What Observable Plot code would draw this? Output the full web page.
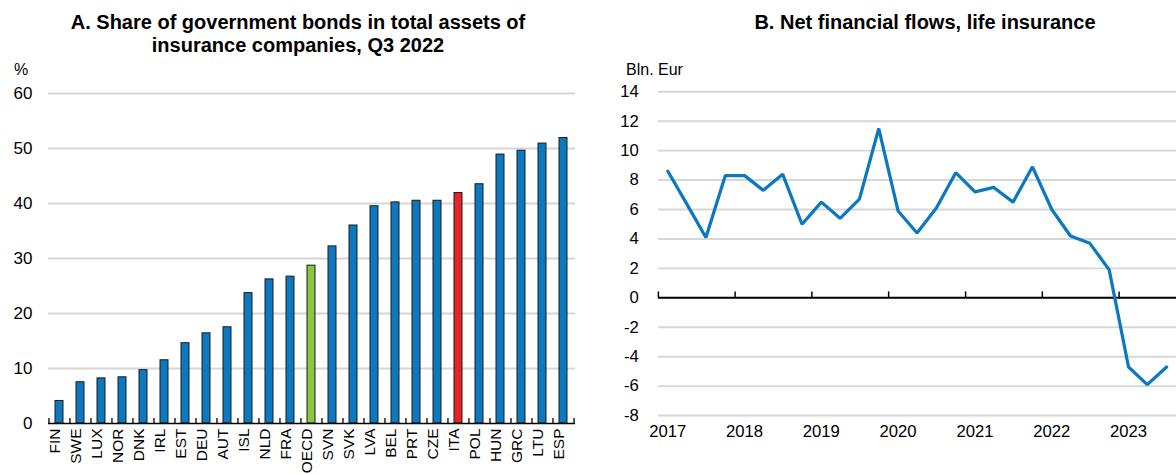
<!DOCTYPE html>
<html>
<head>
<meta charset="utf-8">
<script src="https://cdn.jsdelivr.net/npm/d3@7"></script>
<script src="https://cdn.jsdelivr.net/npm/@observablehq/plot@0.6"></script>
<style>
  html, body { margin: 0; padding: 0; background: #fff; overflow: hidden; }
  #wrap { position: relative; width: 1176px; height: 474px; overflow: hidden;
          font-family: "Liberation Sans", Arial, sans-serif; color: #000; }
  .title { position: absolute; text-align: center; font-weight: bold; font-size: 20px; line-height: 23px; }
  .unit { position: absolute; font-size: 16px; }
  .panel { position: absolute; top: 0; }
</style>
</head>
<body>
<div id="wrap">
  <div class="title" style="left:48px; width:500px; top:11px;">A. Share of government bonds in total assets of<br>insurance companies, Q3 2022</div>
  <div class="title" style="left:675px; width:500px; top:11px;">B. Net financial flows, life insurance</div>
  <div class="unit" style="left:14px; top:61px;">%</div>
  <div class="unit" style="left:626px; top:61px;">Bln. Eur</div>
  <div class="panel" id="left" style="left:0px;"></div>
  <div class="panel" id="right" style="left:600px;"></div>
</div>
<script>
// ---- Panel A data ----
const countries = ["FIN","SWE","LUX","NOR","DNK","IRL","EST","DEU","AUT","ISL","NLD","FRA","OECD","SVN","SVK","LVA","BEL","PRT","CZE","ITA","POL","HUN","GRC","LTU","ESP"];
const shares = [4.1,7.5,8.2,8.4,9.7,11.5,14.6,16.4,17.5,23.7,26.2,26.7,28.7,32.2,36.0,39.5,40.2,40.5,40.5,41.9,43.5,48.9,49.6,50.9,51.9];
const highlight = {OECD: "#8cc63f", ITA: "#e2252b"};
const shareTicks = [0,10,20,30,40,50,60];

// ---- Panel B data ----
const quarters = ["2017Q1","2017Q2","2017Q3","2017Q4","2018Q1","2018Q2","2018Q3","2018Q4","2019Q1","2019Q2","2019Q3","2019Q4","2020Q1","2020Q2","2020Q3","2020Q4","2021Q1","2021Q2","2021Q3","2021Q4","2022Q1","2022Q2","2022Q3","2022Q4","2023Q1","2023Q2","2023Q3"];
const flows = [8.6,6.4,4.1,8.3,8.3,7.3,8.4,5.0,6.5,5.4,6.7,11.5,5.9,4.4,6.1,8.5,7.2,7.5,6.5,8.9,6.0,4.2,3.7,1.9,-4.7,-5.9,-4.7];
const years = [2017,2018,2019,2020,2021,2022,2023,2024];
const flowTicks = [-8,-6,-4,-2,0,2,4,6,8,10,12,14];

const blue = "#0b78bf";
const grid = "#d6d6d6";
const fontFam = '"Liberation Sans", Arial, sans-serif';

// mid-quarter date
function qDate(q) {
  const y = +q.slice(0,4), k = +q.slice(5);
  return new Date(y, (k-1)*3 + 1, 15);
}

const barData = countries.map((c,i) => ({country: c, value: shares[i]}));
const step = 527 / 25;

const left = Plot.plot({
  width: 590, height: 474,
  marginLeft: 48, marginRight: 15, marginTop: 93, marginBottom: 51,
  style: {fontFamily: fontFam, fontSize: "16px", background: "transparent", overflow: "visible"},
  x: {domain: countries, paddingInner: 0.6, paddingOuter: 0.308, axis: null},
  y: {domain: [0, 60], axis: null},
  marks: [
    Plot.ruleY(shareTicks.filter(d => d > 0), {stroke: grid, strokeWidth: 2}),
    Plot.axisY(shareTicks, {tickSize: 0, tickPadding: 16, fontSize: 17, label: null, tickFormat: d => String(d)}),
    Plot.barY(barData, {x: "country", y: "value",
      fill: d => highlight[d.country] || blue, stroke: "#1a1a1a", strokeWidth: 1}),
    Plot.ruleY([0], {stroke: "#000", strokeWidth: 1.5}),
    Plot.ruleX(countries, {x: d => d, y1: 0, y2: 0.9, dx: -step/2, stroke: "#000", strokeWidth: 1.3}),
    Plot.ruleX([countries[countries.length-1]], {x: d => d, y1: 0, y2: 0.9, dx: step/2, stroke: "#000", strokeWidth: 1.3}),
    Plot.text(countries, {x: d => d, frameAnchor: "bottom", rotate: -90, textAnchor: "end",
      dy: 5, fontSize: 15.5, fill: "#000"})
  ]
});
document.getElementById("left").appendChild(left);

const lineData = quarters.map((q,i) => ({date: qDate(q), value: flows[i]}));
const yearStarts = years.map(y => new Date(y, 0, 1));
const yearLabels = years.slice(0, 7).map(y => new Date(y, 1, 15));

const right = Plot.plot({
  width: 587, height: 474,
  marginLeft: 59, marginRight: 0, marginTop: 93, marginBottom: 51,
  style: {fontFamily: fontFam, fontSize: "17px", background: "transparent", overflow: "visible"},
  x: {type: "time", domain: [new Date(2017,0,1), new Date(2023,9,1)], axis: null},
  y: {domain: [-8, 14], axis: null},
  marks: [
    Plot.ruleY(flowTicks.filter(d => d !== 0), {stroke: grid, strokeWidth: 2}),
    Plot.axisY(flowTicks, {tickSize: 0, tickPadding: 20, fontSize: 17, label: null, tickFormat: d => String(d)}),
    Plot.axisX(yearLabels, {tickSize: 0, tickPadding: 10, fontSize: 17, label: null, tickFormat: d => String(d.getFullYear())}),
    Plot.ruleY([0], {stroke: "#000", strokeWidth: 2}),
    Plot.ruleX(yearStarts, {x: d => d, y1: 0, y2: 0.4, stroke: "#000", strokeWidth: 1.5}),
    Plot.line(lineData, {x: "date", y: "value", stroke: blue, strokeWidth: 3.3, strokeLinejoin: "miter"})
  ]
});
document.getElementById("right").appendChild(right);
</script>
</body>
</html>
